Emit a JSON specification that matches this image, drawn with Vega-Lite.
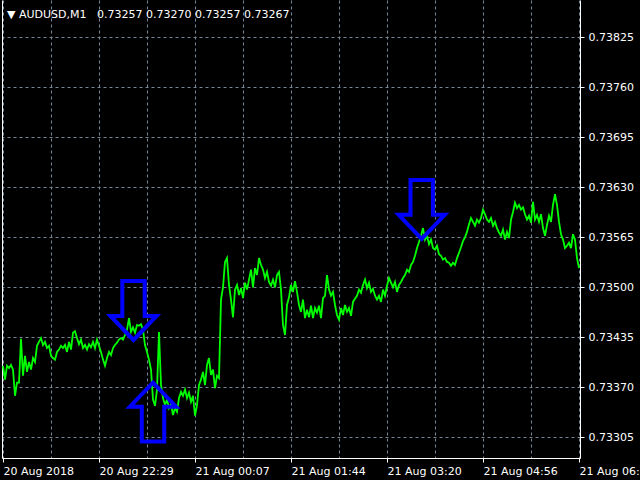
{
  "$schema": "https://vega.github.io/schema/vega-lite/v6.json",
  "width": 578,
  "height": 458,
  "autosize": {"type": "none"},
  "padding": {"left": 2, "top": 0, "right": 60, "bottom": 22},
  "background": "#000000",
  "config": {"view": {"stroke": null}, "font": "DejaVu Sans"},
  "title": {
    "text": "▼ AUDUSD,M1\u00a0\u00a0 0.73257 0.73270 0.73257 0.73267",
    "anchor": "start",
    "frame": "group",
    "offset": -29,
    "dx": 5,
    "font": "DejaVu Sans",
    "fontSize": 11,
    "fontWeight": "normal",
    "color": "#ffffff",
    "baseline": "alphabetic"
  },
  "datasets": {
    "price": [
      {"b":0,"p":0.73398},{"b":2,"p":0.73380},{"b":4,"p":0.73398},{"b":6,"p":0.73395},{"b":8,"p":0.73399},{"b":10,"p":0.73393},{"b":12,"p":0.73359},{"b":14,"p":0.73376},{"b":16,"p":0.73376},{"b":18,"p":0.73433},
      {"b":20,"p":0.73385},{"b":22,"p":0.73411},{"b":24,"p":0.73390},{"b":26,"p":0.73403},{"b":28,"p":0.73393},{"b":30,"p":0.73408},{"b":32,"p":0.73403},{"b":34,"p":0.73424},{"b":36,"p":0.73429},{"b":38,"p":0.73434},
      {"b":40,"p":0.73425},{"b":42,"p":0.73429},{"b":44,"p":0.73421},{"b":46,"p":0.73424},{"b":48,"p":0.73411},{"b":50,"p":0.73408},{"b":52,"p":0.73406},{"b":54,"p":0.73416},{"b":56,"p":0.73419},{"b":58,"p":0.73424},
      {"b":60,"p":0.73421},{"b":62,"p":0.73425},{"b":64,"p":0.73416},{"b":66,"p":0.73429},{"b":68,"p":0.73419},{"b":70,"p":0.73441},{"b":72,"p":0.73443},{"b":74,"p":0.73434},{"b":76,"p":0.73426},{"b":78,"p":0.73432},
      {"b":80,"p":0.73421},{"b":82,"p":0.73425},{"b":84,"p":0.73419},{"b":86,"p":0.73426},{"b":88,"p":0.73422},{"b":90,"p":0.73429},{"b":92,"p":0.73421},{"b":94,"p":0.73432},{"b":96,"p":0.73424},{"b":98,"p":0.73416},
      {"b":100,"p":0.73406},{"b":102,"p":0.73398},{"b":104,"p":0.73408},{"b":106,"p":0.73416},{"b":108,"p":0.73412},{"b":110,"p":0.73421},{"b":112,"p":0.73425},{"b":114,"p":0.73428},{"b":116,"p":0.73432},{"b":118,"p":0.73434},
      {"b":120,"p":0.73432},{"b":122,"p":0.73438},{"b":124,"p":0.73445},{"b":126,"p":0.73460},{"b":128,"p":0.73442},{"b":130,"p":0.73448},{"b":132,"p":0.73441},{"b":134,"p":0.73451},{"b":136,"p":0.73450},{"b":138,"p":0.73452},
      {"b":140,"p":0.73445},{"b":142,"p":0.73425},{"b":144,"p":0.73416},{"b":146,"p":0.73406},{"b":148,"p":0.73393},{"b":150,"p":0.73354},{"b":152,"p":0.73346},{"b":154,"p":0.73367},{"b":156,"p":0.73442},{"b":158,"p":0.73373},
      {"b":160,"p":0.73356},{"b":162,"p":0.73347},{"b":164,"p":0.73354},{"b":166,"p":0.73343},{"b":168,"p":0.73348},{"b":170,"p":0.73334},{"b":172,"p":0.73343},{"b":174,"p":0.73338},{"b":176,"p":0.73356},{"b":178,"p":0.73364},
      {"b":180,"p":0.73359},{"b":182,"p":0.73367},{"b":184,"p":0.73356},{"b":186,"p":0.73363},{"b":188,"p":0.73351},{"b":190,"p":0.73359},{"b":192,"p":0.73333},{"b":194,"p":0.73347},{"b":196,"p":0.73373},{"b":198,"p":0.73380},
      {"b":200,"p":0.73390},{"b":202,"p":0.73373},{"b":204,"p":0.73399},{"b":206,"p":0.73408},{"b":208,"p":0.73386},{"b":210,"p":0.73393},{"b":212,"p":0.73369},{"b":214,"p":0.73385},{"b":216,"p":0.73382},{"b":218,"p":0.73484},
      {"b":220,"p":0.73500},{"b":222,"p":0.73533},{"b":224,"p":0.73538},{"b":226,"p":0.73503},{"b":228,"p":0.73484},{"b":230,"p":0.73461},{"b":232,"p":0.73497},{"b":234,"p":0.73503},{"b":236,"p":0.73490},{"b":238,"p":0.73499},
      {"b":240,"p":0.73486},{"b":242,"p":0.73506},{"b":244,"p":0.73497},{"b":246,"p":0.73510},{"b":248,"p":0.73523},{"b":250,"p":0.73500},{"b":252,"p":0.73525},{"b":254,"p":0.73516},{"b":256,"p":0.73538},{"b":258,"p":0.73529},
      {"b":260,"p":0.73523},{"b":262,"p":0.73512},{"b":264,"p":0.73520},{"b":266,"p":0.73507},{"b":268,"p":0.73502},{"b":270,"p":0.73510},{"b":272,"p":0.73500},{"b":274,"p":0.73516},{"b":276,"p":0.73520},{"b":278,"p":0.73497},
      {"b":280,"p":0.73451},{"b":282,"p":0.73438},{"b":284,"p":0.73477},{"b":286,"p":0.73487},{"b":288,"p":0.73503},{"b":290,"p":0.73494},{"b":292,"p":0.73508},{"b":294,"p":0.73494},{"b":296,"p":0.73477},{"b":298,"p":0.73468},
      {"b":300,"p":0.73484},{"b":302,"p":0.73460},{"b":304,"p":0.73471},{"b":306,"p":0.73461},{"b":308,"p":0.73476},{"b":310,"p":0.73460},{"b":312,"p":0.73473},{"b":314,"p":0.73467},{"b":316,"p":0.73476},{"b":318,"p":0.73460},
      {"b":320,"p":0.73486},{"b":322,"p":0.73489},{"b":324,"p":0.73516},{"b":326,"p":0.73497},{"b":328,"p":0.73489},{"b":330,"p":0.73494},{"b":332,"p":0.73477},{"b":334,"p":0.73464},{"b":336,"p":0.73458},{"b":338,"p":0.73473},
      {"b":340,"p":0.73464},{"b":342,"p":0.73477},{"b":344,"p":0.73468},{"b":346,"p":0.73473},{"b":348,"p":0.73463},{"b":350,"p":0.73481},{"b":352,"p":0.73485},{"b":354,"p":0.73489},{"b":356,"p":0.73497},{"b":358,"p":0.73493},
      {"b":360,"p":0.73503},{"b":362,"p":0.73510},{"b":364,"p":0.73499},{"b":366,"p":0.73506},{"b":368,"p":0.73494},{"b":370,"p":0.73498},{"b":372,"p":0.73489},{"b":374,"p":0.73484},{"b":376,"p":0.73489},{"b":378,"p":0.73481},
      {"b":380,"p":0.73497},{"b":382,"p":0.73489},{"b":384,"p":0.73502},{"b":386,"p":0.73512},{"b":388,"p":0.73506},{"b":390,"p":0.73500},{"b":392,"p":0.73507},{"b":394,"p":0.73494},{"b":396,"p":0.73503},{"b":398,"p":0.73507},
      {"b":400,"p":0.73512},{"b":402,"p":0.73516},{"b":404,"p":0.73523},{"b":406,"p":0.73520},{"b":408,"p":0.73529},{"b":410,"p":0.73533},{"b":412,"p":0.73541},{"b":414,"p":0.73551},{"b":416,"p":0.73559},{"b":418,"p":0.73567},
      {"b":420,"p":0.73577},{"b":422,"p":0.73562},{"b":424,"p":0.73567},{"b":426,"p":0.73556},{"b":428,"p":0.73562},{"b":430,"p":0.73551},{"b":432,"p":0.73549},{"b":434,"p":0.73554},{"b":436,"p":0.73543},{"b":438,"p":0.73541},
      {"b":440,"p":0.73536},{"b":442,"p":0.73538},{"b":444,"p":0.73533},{"b":446,"p":0.73532},{"b":448,"p":0.73528},{"b":450,"p":0.73532},{"b":452,"p":0.73529},{"b":454,"p":0.73538},{"b":456,"p":0.73545},{"b":458,"p":0.73552},
      {"b":460,"p":0.73560},{"b":462,"p":0.73565},{"b":464,"p":0.73572},{"b":466,"p":0.73582},{"b":468,"p":0.73590},{"b":470,"p":0.73585},{"b":472,"p":0.73580},{"b":474,"p":0.73588},{"b":476,"p":0.73584},{"b":478,"p":0.73590},
      {"b":480,"p":0.73601},{"b":482,"p":0.73595},{"b":484,"p":0.73588},{"b":486,"p":0.73585},{"b":488,"p":0.73590},{"b":490,"p":0.73580},{"b":492,"p":0.73585},{"b":494,"p":0.73577},{"b":496,"p":0.73571},{"b":498,"p":0.73567},
      {"b":500,"p":0.73575},{"b":502,"p":0.73562},{"b":504,"p":0.73572},{"b":506,"p":0.73564},{"b":508,"p":0.73588},{"b":510,"p":0.73598},{"b":512,"p":0.73610},{"b":514,"p":0.73603},{"b":516,"p":0.73607},{"b":518,"p":0.73601},
      {"b":520,"p":0.73604},{"b":522,"p":0.73595},{"b":524,"p":0.73588},{"b":526,"p":0.73593},{"b":528,"p":0.73584},{"b":530,"p":0.73611},{"b":532,"p":0.73588},{"b":534,"p":0.73594},{"b":536,"p":0.73585},{"b":538,"p":0.73595},
      {"b":540,"p":0.73577},{"b":542,"p":0.73567},{"b":544,"p":0.73581},{"b":546,"p":0.73593},{"b":548,"p":0.73585},{"b":550,"p":0.73607},{"b":552,"p":0.73621},{"b":554,"p":0.73607},{"b":556,"p":0.73585},{"b":558,"p":0.73569},
      {"b":560,"p":0.73562},{"b":562,"p":0.73551},{"b":564,"p":0.73554},{"b":566,"p":0.73558},{"b":568,"p":0.73551},{"b":570,"p":0.73569},{"b":572,"p":0.73562},{"b":574,"p":0.73538},{"b":576,"p":0.73525}
    ],
    "arrows": [
      {"b": 130.5, "p": 0.734315, "dir": "down"},
      {"b": 150, "p": 0.73376, "dir": "up"},
      {"b": 418.7, "p": 0.73563, "dir": "down"}
    ]
  },
  "encoding": {
    "x": {
      "field": "b",
      "type": "quantitative",
      "scale": {"domain": [-1, 577], "nice": false, "zero": false},
      "axis": {
        "title": null,
        "values": [0, 48, 96, 144, 192, 240, 288, 336, 384, 432, 480, 528, 576],
        "labelExpr": "datum.value==0?'20 Aug 2018':datum.value==96?'20 Aug 22:29':datum.value==192?'21 Aug 00:07':datum.value==288?'21 Aug 01:44':datum.value==384?'21 Aug 03:20':datum.value==480?'21 Aug 04:56':datum.value==576?'21 Aug 06:32':''",
        "labelAlign": "left",
        "labelFlush": false,
        "labelOverlap": false,
        "labelBound": false,
        "labelColor": "#ffffff",
        "labelFont": "DejaVu Sans",
        "labelFontSize": 11,
        "labelPadding": 3,
        "domainColor": "#ffffff",
        "domainWidth": 1,
        "tickColor": {"condition": {"test": "datum.value % 96 === 0", "value": "#ffffff"}, "value": "transparent"},
        "tickSize": 4,
        "grid": true,
        "gridColor": "#778899",
        "gridDash": [3, 3],
        "gridOpacity": 1
      }
    },
    "y": {
      "field": "p",
      "type": "quantitative",
      "scale": {"domain": [0.732781, 0.738735], "nice": false, "zero": false},
      "axis": {
        "orient": "right",
        "title": null,
        "values": [0.73305, 0.7337, 0.73435, 0.735, 0.73565, 0.7363, 0.73695, 0.7376, 0.73825],
        "format": ".5f",
        "labelColor": "#ffffff",
        "labelFont": "DejaVu Sans",
        "labelFontSize": 11,
        "labelPadding": 4,
        "labelOverlap": false,
        "labelFlush": false,
        "domainColor": "#ffffff",
        "tickColor": "#ffffff",
        "tickSize": 4,
        "grid": true,
        "gridColor": "#778899",
        "gridDash": [3, 3],
        "gridOpacity": 1
      }
    }
  },
  "layer": [
    {
      "data": {"name": "price"},
      "mark": {"type": "line", "color": "#00ff00", "strokeWidth": 1.8, "clip": true}
    },
    {
      "data": {"name": "arrows"},
      "mark": {"type": "point", "filled": false, "color": "#0000ff", "strokeWidth": 4, "size": 4096, "opacity": 1, "strokeJoin": "miter", "strokeMiterLimit": 10},
      "encoding": {
        "y": {
          "field": "p",
          "type": "quantitative",
          "scale": {"domain": [0.732781, 0.738735], "nice": false, "zero": false},
          "axis": {"orient": "left", "title": null, "labels": false, "ticks": false, "grid": false, "domainColor": "#ffffff"}
        },
        "shape": {
          "field": "dir",
          "type": "nominal",
          "scale": {
            "domain": ["down", "up"],
            "range": [
              "M0,0L-0.72,-0.75L-0.35,-0.75L-0.35,-1.84L0.35,-1.84L0.35,-0.75L0.72,-0.75Z",
              "M0,0L-0.72,0.75L-0.35,0.75L-0.35,1.84L0.35,1.84L0.35,0.75L0.72,0.75Z"
            ]
          },
          "legend": null
        }
      }
    }
  ],
  "resolve": {"axis": {"y": "independent"}}
}
